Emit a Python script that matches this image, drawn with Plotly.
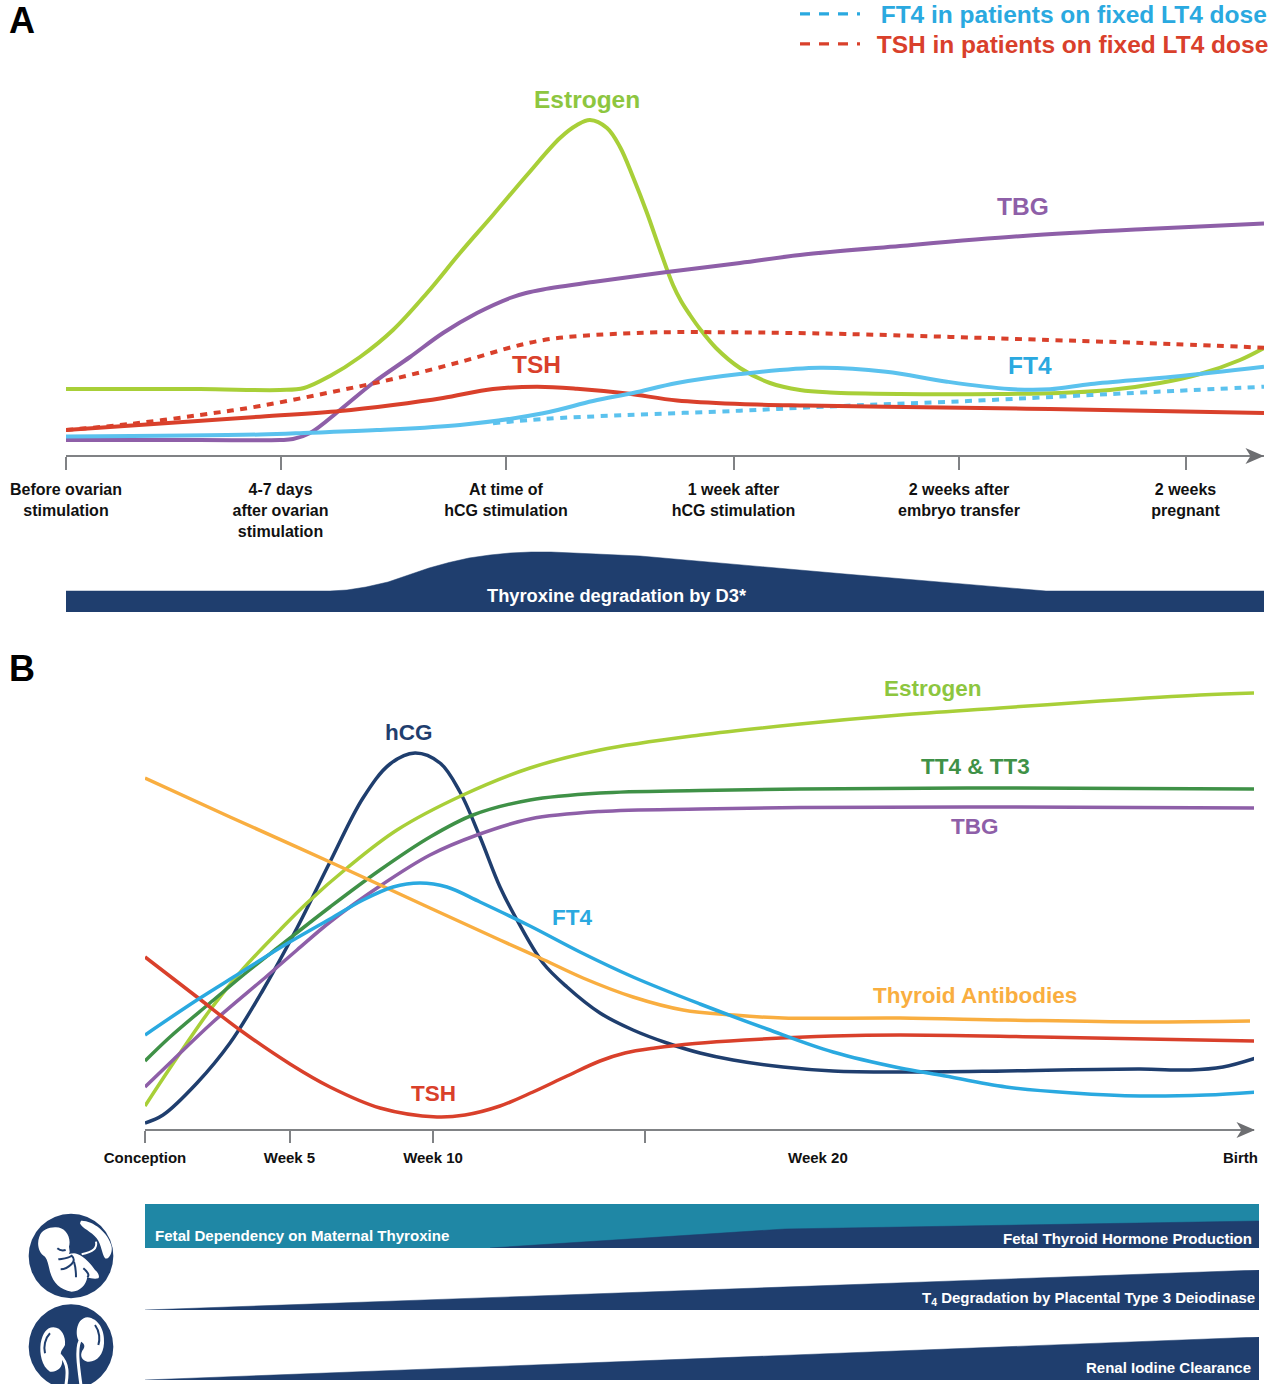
import re
import plotly.graph_objects as go

W, H = 1273, 1384
FONT = "Liberation Sans"
NAVY = "#1F3E6E"; TEAL = "#1F87A5"; GRAY = "#808285"; BLACK = "#111111"
LIME = "#A8CF38"; LIME_T = "#8DC63F"; PURPLE = "#8E5FA8"; RED = "#D9402B"
SKY = "#5BC2EE"; BLUE = "#2AA9E0"; GREEN = "#3F9147"; ORANGE = "#F9AE40"

# ---------- Panel A: relative level along the fertility-treatment timeline ----------
a_ticks = [0, 214.5, 440, 667.5, 893, 1119.5]
a_labels = ["Before ovarian<br>stimulation", "4-7 days<br>after ovarian<br>stimulation",
            "At time of<br>hCG stimulation", "1 week after<br>hCG stimulation",
            "2 weeks after<br>embryo transfer", "2 weeks<br>pregnant"]

a_estrogen_x = [0,134,214,238,264,294,327,361,394,427,461,494,511,524,541,554,567,581,594,607,615,624,634,650,674,704,734,764,834,934,994,1044,1094,1134,1174,1198]
a_estrogen_y = [67,67,66,68,80,99,126,163,203,241,281,318,331,336,328,309,279,243,206,171,155,141,127,108,88,73,66,63.5,62,62,63,66,73,82,96,108]
a_tbg_x = [0,134,214,227,244,274,307,344,377,411,444,460,477,527,601,674,734,834,957,1080,1198]
a_tbg_y = [16,16,16,17,23,46,73,99,123,143,158,163,166.5,174,184,193,201,210,220,227,232.5]
a_tsh_fixed_x = [0,64,134,194,261,327,394,454,484,514,547,594,667,779,984,1107,1198]
a_tsh_fixed_y = [26,32,41,50,63,77,94,111,117,120,122,123.7,123.7,122,116,112,108.3]
a_tsh_x = [0,194,274,327,377,427,471,511,561,611,674,740,820,984,1198]
a_tsh_y = [26,39.3,45,51,58,67,69.3,67.3,62.5,55.5,52,50.5,49.3,47,43]
a_ft4_x = [0,194,244,311,394,477,527,567,611,674,754,820,881,943,984,1025,1107,1198]
a_ft4_y = [19.5,21.5,23.3,26,31,42.7,55,63,73,82,88.3,84.3,74.3,67,66.7,72,79.3,89.3]
a_ft4_fixed_x = [427,477,561,674,758,902,1025,1107,1198]
a_ft4_fixed_y = [32.7,37,41,45.3,49.3,55,61,65,69.3]
a_d3_x = [0,264,281,300,322,342,363,383,403,424,444,465,485,530,574,779,980,1198]
a_d3_y = [21,21,22,25,30,37,44,49.5,54,57,59,60,60,58,56,38,21,21]

# ---------- Panel B: relative level across gestation ----------
b_ticks = [0, 144.5, 288]
b_labels = ["Conception", "Week 5", "Week 10"]
b_unlabelled_tick = [499.5]
b_hcg_x = [0,18,52,85,118,152,185,218,245,270,295,315,335,355,372,398,422,455,488,522,555,588,638,688,755,861,995,1045,1078,1111]
b_hcg_y = [7,15,47,87,140,202,268,332,366,377,367,338,293,243,210,167,143,117,100,87,77,70,63,59,58,59,61,60,63,72]
b_estrogen_x = [0,25,65,98,135,162,202,252,318,385,455,555,655,755,855,955,1055,1109]
b_estrogen_y = [24,62,120,161,200,227,262,300,335,362,380,395,406,415,422,429,435,437]
b_tt4_x = [0,25,65,102,135,185,235,285,328,385,455,555,655,855,1109]
b_tt4_y = [69,93,127,158,184,223,260,293,315,330,337,339.5,341,342,341]
b_tbg_x = [0,28,68,122,152,185,235,285,332,385,455,555,655,855,1109]
b_tbg_y = [43,70,108,154,180,208,244,275,295,311,318.5,321,322.5,323,322]
b_ft4_x = [0,52,95,138,185,218,248,275,302,335,385,435,488,555,622,688,755,795,861,928,995,1061,1111]
b_ft4_y = [95,130,157,184,211,230,243,247,243,228,204,178,153,126,101,78,62,55,43,37,34,35,38]
b_ab_x = [0,85,185,285,355,395,438,488,538,588,638,755,861,995,1105]
b_ab_y = [352,313,268,222,190,172,152,133,120,115,112,112,110,108,109]
b_tsh_x = [0,52,95,145,185,235,292,320,355,388,422,455,480,510,550,600,688,755,895,1111]
b_tsh_y = [173,133,100,66,43,22,13,15,24,38,54,69,77,82,86.5,90,94,95,93,89]

# ---------- Bands under panel B ----------
dep_x = [0, 1114]; dep_y = [44, 44]
prod_x = [345, 640, 1114]; prod_y = [0, 19, 27]
deg_x = [0, 1114]; deg_y = [0, 40]
renal_x = [0, 1114]; renal_y = [0, 43]


def dom_x(a, b):
    return [a / W, b / W]


def dom_y(top, bottom):
    return [1 - bottom / H, 1 - top / H]


fig = go.Figure()


def curve(name, x, y, color, width=4, dash=None, xa="x", ya="y"):
    fig.add_trace(go.Scatter(x=x, y=y, mode="lines", name=name, showlegend=False,
                             hoverinfo="skip", xaxis=xa, yaxis=ya,
                             line=dict(color=color, width=width, dash=dash, shape="spline"),
                             cliponaxis=False))


def key(name, color, legend):
    fig.add_trace(go.Scatter(x=[None], y=[None], mode="lines", name=name, showlegend=True, legend=legend,
                             hoverinfo="skip", line=dict(color=color, width=3.2, dash="10px,9px")))


def band(name, x, y, color, xa, ya):
    fig.add_trace(go.Scatter(x=x, y=y, mode="lines", name=name, showlegend=False, hoverinfo="skip",
                             xaxis=xa, yaxis=ya, fill="tozeroy", fillcolor=color,
                             line=dict(color=color, width=0.5), cliponaxis=False))


DASH = "7px,6.5px"
band("Thyroxine degradation by D3*", a_d3_x, a_d3_y, NAVY, "x", "y2")
curve("Estrogen", a_estrogen_x, a_estrogen_y, LIME)
curve("TBG", a_tbg_x, a_tbg_y, PURPLE)
curve("FT4 in patients on fixed LT4 dose", a_ft4_fixed_x, a_ft4_fixed_y, SKY, dash=DASH)
curve("TSH in patients on fixed LT4 dose", a_tsh_fixed_x, a_tsh_fixed_y, RED, dash=DASH)
curve("TSH", a_tsh_x, a_tsh_y, RED)
curve("FT4", a_ft4_x, a_ft4_y, SKY)
key('<span style="color:%s">\u00a0\u00a0\u200aFT4 in patients on fixed LT4 dose</span>' % BLUE, BLUE, "legend")
key('<span style="color:%s">\u00a0\u2009TSH in patients on fixed LT4 dose</span>' % RED, RED, "legend2")

for nm, x, y, c in [("hCG", b_hcg_x, b_hcg_y, NAVY), ("Estrogen", b_estrogen_x, b_estrogen_y, LIME),
                    ("TT4 & TT3", b_tt4_x, b_tt4_y, GREEN), ("TBG", b_tbg_x, b_tbg_y, PURPLE),
                    ("Thyroid Antibodies", b_ab_x, b_ab_y, ORANGE), ("TSH", b_tsh_x, b_tsh_y, RED),
                    ("FT4", b_ft4_x, b_ft4_y, BLUE)]:
    curve(nm, x, y, c, width=3.5, xa="x2", ya="y3")

band("Fetal Dependency on Maternal Thyroxine", dep_x, dep_y, TEAL, "x3", "y4")
band("Fetal Thyroid Hormone Production", prod_x, prod_y, NAVY, "x3", "y4")
band("T4 Degradation by Placental Type 3 Deiodinase", deg_x, deg_y, NAVY, "x3", "y5")
band("Renal Iodine Clearance", renal_x, renal_y, NAVY, "x3", "y6")

hidden = dict(visible=False, fixedrange=True)
axis_style = dict(showline=True, linecolor=GRAY, linewidth=2, ticks="outside", tickcolor=GRAY,
                  tickwidth=1.5, showgrid=False, zeroline=False, tickmode="array",
                  tickangle=0, fixedrange=True)
legend_style = dict(xanchor="left", yanchor="middle", bgcolor="rgba(0,0,0,0)", itemwidth=60,
                    itemclick=False, itemdoubleclick=False,
                    font=dict(family=FONT, size=24.5, weight="bold"))

fig.update_layout(
    width=W, height=H, margin=dict(l=0, r=0, t=0, b=0, autoexpand=False),
    paper_bgcolor="white", plot_bgcolor="rgba(0,0,0,0)",
    font=dict(family=FONT),
    xaxis=dict(domain=dom_x(66, 1264), range=[0, 1198], anchor="y", tickvals=a_ticks,
               ticktext=a_labels, ticklen=13, ticklabelstandoff=6,
               tickfont=dict(family=FONT, size=16, color=BLACK, weight="bold"), **axis_style),
    yaxis=dict(domain=dom_y(80, 455), range=[1, 376], anchor="x", **hidden),
    yaxis2=dict(domain=dom_y(540, 612), range=[0, 72], anchor="x", **hidden),
    xaxis2=dict(domain=dom_x(145, 1254), range=[0, 1109], anchor="y3", tickvals=b_ticks,
                ticktext=b_labels, ticklen=12, ticklabelstandoff=2,
                minor=dict(tickmode="array", tickvals=b_unlabelled_tick, ticks="outside", ticklen=12,
                           tickcolor=GRAY, tickwidth=1.5, showgrid=False),
                tickfont=dict(family=FONT, size=15, color=BLACK, weight="bold"), **axis_style),
    yaxis3=dict(domain=dom_y(670, 1129), range=[1, 460], anchor="x2", **hidden),
    xaxis3=dict(domain=dom_x(145, 1259), range=[0, 1114], anchor="y4", **hidden),
    yaxis4=dict(domain=dom_y(1204, 1248), range=[0, 44], anchor="x3", **hidden),
    yaxis5=dict(domain=dom_y(1270, 1310), range=[0, 40], anchor="x3", **hidden),
    yaxis6=dict(domain=dom_y(1337, 1380), range=[0, 43], anchor="x3", **hidden),
    legend=dict(x=795 / W, y=1 - 14 / H, **legend_style),
    legend2=dict(x=795 / W, y=1 - 44 / H, **legend_style),
)


def label(text, x, y, color, size, xa="x", ya="y", anchor="center"):
    fig.add_annotation(text=text, x=x, y=y, xref=xa, yref=ya, showarrow=False, xanchor=anchor,
                       yanchor="middle", font=dict(family=FONT, size=size, color=color, weight="bold"))


label("Estrogen", 521, 356, LIME_T, 24.5)
label("TBG", 957, 249, PURPLE, 24.5)
label("TSH", 470, 91, RED, 24.5)
label("FT4", 964, 90, BLUE, 24.5)
label("Thyroxine degradation by D3*", 551, 17, "white", 18.3, ya="y2")

label("Estrogen", 788, 442, LIME_T, 22.5, "x2", "y3")
label("TT4 &amp; TT3", 830, 364, GREEN, 22.5, "x2", "y3")
label("TBG", 830, 304, PURPLE, 22.5, "x2", "y3")
label("hCG", 264, 398, NAVY, 22.5, "x2", "y3")
label("FT4", 427, 213, BLUE, 22.5, "x2", "y3")
label("Thyroid Antibodies", 830, 135, ORANGE, 22.5, "x2", "y3")
label("TSH", 288, 37, RED, 22.5, "x2", "y3")
label("Week 20", 673, 1 - 1157 / H, BLACK, 15, "x2", "paper")
label("Birth", 1095, 1 - 1157 / H, BLACK, 15, "x2", "paper")

label("Fetal Dependency on Maternal Thyroxine", 8, 13, "white", 15.1, "x3", "y4", "left")
label("Fetal Thyroid Hormone Production", 1109, 10, "white", 15.1, "x3", "y4", "right")
label("T<sub>4</sub> Degradation by Placental Type 3 Deiodinase", 1112, 12, "white", 15, "x3", "y5", "right")
label("Renal Iodine Clearance", 1108, 13, "white", 15, "x3", "y6", "right")

for txt, py in [("A", 20), ("B", 669)]:
    fig.add_annotation(text=txt, x=22 / W, y=1 - py / H, xref="paper", yref="paper", showarrow=False,
                       xanchor="center", yanchor="middle",
                       font=dict(family=FONT, size=36, color="black", weight="bold"))


# ---------- Axis arrowheads (decorative notched shapes, page pixels) ----------
for tip, mid in [(1264, 456), (1255, 1130)]:
    pts = [(tip, mid), (tip - 18.5, mid - 8), (tip - 13.5, mid), (tip - 18.5, mid + 8)]
    fig.add_shape(type="path", xref="paper", yref="paper", layer="above",
                  path="M " + " L ".join("%.5f,%.5f" % (px / W, 1 - py / H) for px, py in pts) + " Z",
                  fillcolor="#6D6E71", line=dict(width=0))


# ---------- Icons (decorative vector shapes) ----------
def to_paper(path):
    nums = iter(re.findall(r"[A-Za-z]|-?\d+\.?\d*", path))
    out = []
    for tok in nums:
        if tok.isalpha():
            out.append(tok)
        else:
            px = float(tok) / 3
            py = 1190 + float(next(nums)) / 3
            out.append("%.5f,%.5f" % (px / W, 1 - py / H))
    return " ".join(out)


def icon(path, fill=None, stroke=None, width=2):
    fig.add_shape(type="path", path=to_paper(path), xref="paper", yref="paper", layer="above",
                  fillcolor=fill if fill else "rgba(0,0,0,0)",
                  line=dict(color=stroke if stroke else "rgba(0,0,0,0)", width=width if stroke else 0))


for cy in (198, 470):
    fig.add_shape(type="circle", xref="paper", yref="paper", x0=86 / 3 / W, x1=340 / 3 / W,
                  y0=1 - (1190 + (cy + 127) / 3) / H, y1=1 - (1190 + (cy - 127) / 3) / H,
                  fillcolor=NAVY, line=dict(width=0), layer="above")

icon("M 165 112 C 195 110 215 140 207 170 L 209 185 L 207 192 C 215 190 225 188 232 192 C 255 200 275 225 285 240 "
     "C 295 248 300 260 295 265 C 285 268 270 265 262 262 C 258 285 240 305 215 305 C 180 298 160 280 150 245 "
     "C 145 225 143 210 135 200 C 115 190 110 160 118 140 C 125 120 145 112 165 112 Z", fill="white")
icon("M 243 92 C 275 90 325 125 335 170 C 338 190 325 210 315 205 C 305 190 305 165 290 145 C 275 125 245 115 240 100 Z", fill="white")
icon("M 288 155 C 292 175 280 185 245 193", stroke="white")
icon("M 172 175 C 180 182 190 182 197 180", stroke=NAVY)
icon("M 175 208 C 195 205 205 205 215 197 C 225 205 222 215 215 222 C 205 232 195 238 182 238", stroke=NAVY)
icon("M 222 215 C 228 235 228 250 228 262", stroke=NAVY)
icon("M 250 235 C 262 245 270 255 262 262", stroke=NAVY)

icon("M 160 412 C 185 412 198 440 195 465 C 188 480 178 485 185 500 C 190 520 185 545 150 545 "
     "C 125 530 118 490 122 460 C 128 430 140 412 160 412 Z", fill="white")
icon("M 262 382 C 295 385 315 420 312 460 C 310 495 290 518 262 515 C 240 510 240 490 250 478 "
     "C 258 465 250 458 235 450 C 225 430 230 385 262 382 Z", fill="white")
icon("M 180 495 C 205 520 205 550 195 600", stroke="white", width=3)
icon("M 245 445 C 225 465 235 530 245 600", stroke="white", width=3)
icon("M 150 430 C 135 445 130 470 135 490", stroke=NAVY)
icon("M 285 405 C 300 425 300 450 295 465", stroke=NAVY)

fig.write_html("out.html", config={"displayModeBar": False}, post_script="document.body.style.margin='0';")
